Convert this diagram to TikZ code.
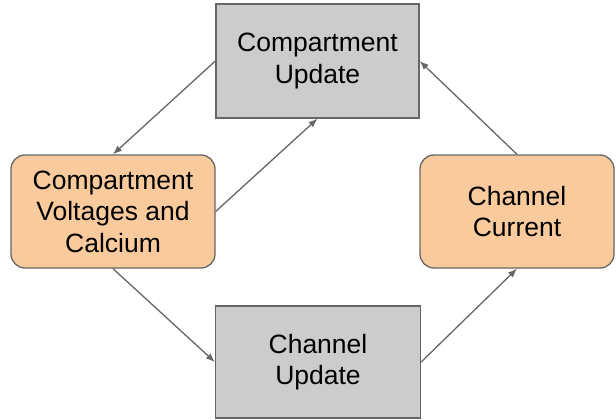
\documentclass[tikz,border=0pt]{standalone}
\usepackage{fontspec}
\setmainfont{Liberation Sans}
\usetikzlibrary{arrows.meta}
\definecolor{boxgray}{HTML}{CCCCCC}
\definecolor{boxorange}{HTML}{F9CB9C}
\definecolor{linegray}{HTML}{666666}
\begin{document}
\begin{tikzpicture}[x=1pt,y=-1pt,
  every node/.style={font=\fontsize{26.5}{31.5}\selectfont, align=center, inner sep=0pt, draw=linegray, line width=1.3pt},
  grayrect/.style={fill=boxgray},
  orangebox/.style={fill=boxorange, rounded corners=14pt},
  conn/.style={draw=linegray, line width=1.3pt, -{Latex[length=9pt,width=7pt]}}]
\useasboundingbox (0,0) rectangle (616,420);
\node[grayrect, minimum width=203pt, minimum height=114pt] (cu) at (317.5,61) {Compartment\\Update};
\node[orangebox, minimum width=204pt, minimum height=113pt] (cv) at (113,211.5) {Compartment\\Voltages and\\Calcium};
\node[orangebox, minimum width=194pt, minimum height=113pt] (cc) at (517,211.5) {Channel\\Current};
\node[grayrect, minimum width=205pt, minimum height=112pt] (chu) at (318,362) {Channel\\Update};
\draw[conn] (cu.west) -- (cv.north);
\draw[conn] (cv.east) -- (cu.south);
\draw[conn] (cv.south) -- (chu.west);
\draw[conn] (chu.east) -- (cc.south);
\draw[conn] (cc.north) -- (cu.east);
\end{tikzpicture}
\end{document}
